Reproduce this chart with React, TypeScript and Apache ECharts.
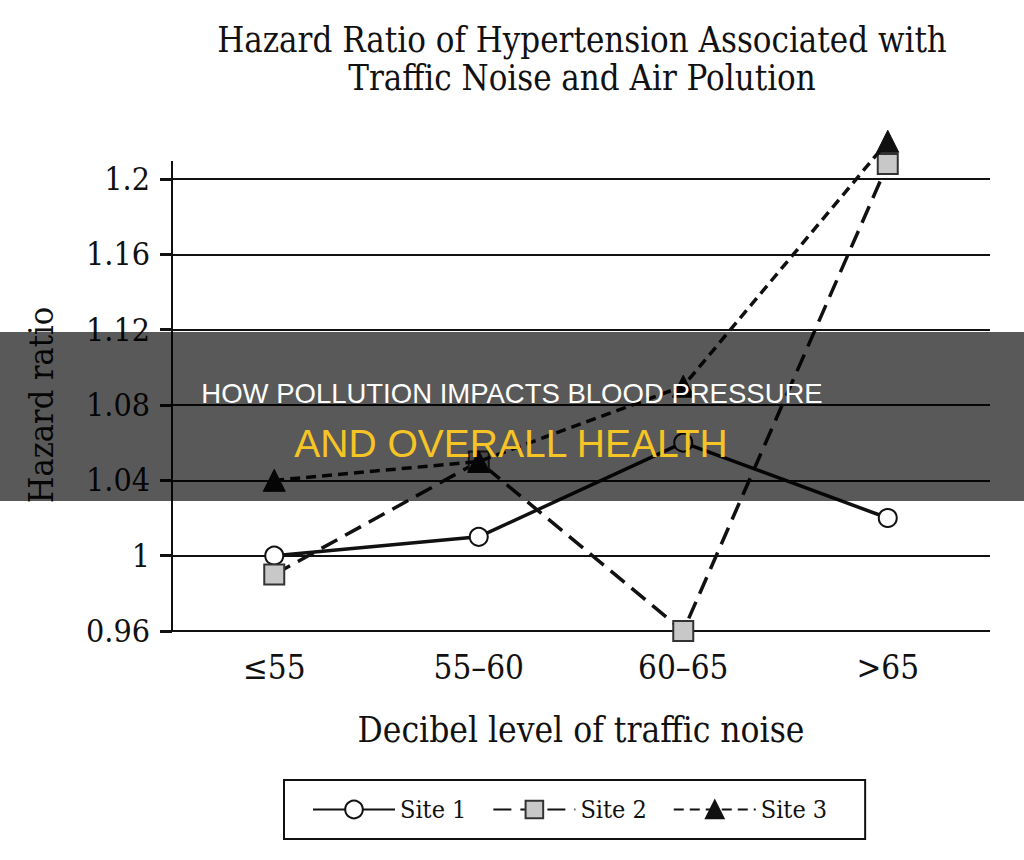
import React, { useEffect, useRef } from "react";
import * as echarts from "echarts";

const categories = ["≤55", "55–60", "60–65", ">65"];
const site1 = [1.0, 1.01, 1.06, 1.02];
const site2 = [0.99, 1.05, 0.96, 1.208];
const site3 = [1.04, 1.05, 1.09, 1.22];
const seriesNames = ["Site 1", "Site 2", "Site 3"];
const titleLines = ["Hazard Ratio of Hypertension Associated with", "Traffic Noise and Air Polution"];
const bannerLine1 = "HOW POLLUTION IMPACTS BLOOD PRESSURE";
const bannerLine2 = "AND OVERALL HEALTH";

const SERIF = "'DejaVu Serif Condensed', 'DejaVu Serif', serif";
const SANS = "'Liberation Sans', Arial, sans-serif";

export default function App() {
  const ref = useRef<HTMLDivElement>(null);
  useEffect(() => {
    document.body.style.margin = "0";
    if (!ref.current) return;
    const chart = echarts.init(ref.current, undefined, { renderer: "svg" });
    chart.setOption({
      animation: false,
      backgroundColor: "#ffffff",
      title: {
        text: titleLines.join("\n"),
        left: 577,
        top: 16,
        textAlign: "center",
        textStyle: { fontFamily: SERIF, fontSize: 34.5, fontWeight: "normal", color: "#111", lineHeight: 38 },
      },
      legend: {
        left: 284,
        top: 780,
        orient: "horizontal",
        borderColor: "#111",
        borderWidth: 2,
        padding: [17, 38, 17, 28],
        itemGap: 26,
        itemWidth: 82,
        itemHeight: 22,
        textStyle: { fontFamily: SERIF, fontSize: 25, color: "#111" },
        data: seriesNames,
      },
      grid: { left: 172, right: 34, top: 179, bottom: 229 },
      xAxis: {
        type: "category",
        data: categories,
        boundaryGap: true,
        name: "Decibel level of traffic noise",
        nameLocation: "middle",
        nameGap: 81,
        nameTextStyle: { fontFamily: SERIF, fontSize: 35, color: "#111" },
        axisLine: { show: false },
        axisTick: { show: false },
        axisLabel: { fontFamily: SERIF, fontSize: 33, color: "#111", margin: 20 },
      },
      yAxis: {
        type: "value",
        min: 0.96,
        max: 1.2,
        interval: 0.04,
        name: "Hazard ratio",
        nameLocation: "middle",
        nameGap: 114,
        nameTextStyle: { fontFamily: SERIF, fontSize: 34, color: "#111" },
        axisLine: { show: true, lineStyle: { color: "#111", width: 2 } },
        axisTick: { show: true, length: 12, lineStyle: { color: "#111", width: 3 } },
        axisLabel: {
          fontFamily: SERIF,
          fontSize: 32,
          color: "#111",
          margin: 22,
          formatter: (v: number) => String(parseFloat(v.toFixed(2))),
        },
        splitLine: { show: true, lineStyle: { color: "#111", width: 2 } },
      },
      series: [
        {
          name: seriesNames[0],
          type: "line",
          data: site1,
          clip: false,
          symbol: "circle",
          symbolSize: 18,
          lineStyle: { color: "#111", width: 3.5, type: "solid" },
          itemStyle: { color: "#ffffff", borderColor: "#111", borderWidth: 2 },
          z: 3,
        },
        {
          name: seriesNames[1],
          type: "line",
          data: site2,
          clip: false,
          symbol: "rect",
          symbolSize: 20,
          lineStyle: { color: "#111", width: 3.5, type: [18, 9] },
          itemStyle: { color: "#c8c8c8", borderColor: "#333", borderWidth: 2 },
          z: 4,
        },
        {
          name: seriesNames[2],
          type: "line",
          data: site3,
          clip: false,
          symbol: "triangle",
          symbolSize: [22, 22],
          lineStyle: { color: "#111", width: 3.5, type: [10, 6] },
          itemStyle: { color: "#111", borderColor: "#111", borderWidth: 1 },
          z: 5,
        },
      ],
      graphic: [
        {
          type: "line",
          shape: { x1: 172, y1: 161, x2: 172, y2: 180 },
          style: { stroke: "#111", lineWidth: 2 },
          z: 1,
        },
        {
          type: "rect",
          shape: { x: 0, y: 332, width: 1024, height: 169 },
          style: { fill: "rgba(0,0,0,0.65)" },
          z: 100,
        },
        {
          type: "text",
          x: 512,
          y: 393,
          style: {
            text: bannerLine1,
            fill: "#ffffff",
            font: `27.5px ${SANS}`,
            textAlign: "center",
            textVerticalAlign: "middle",
          },
          z: 101,
        },
        {
          type: "text",
          x: 511,
          y: 443,
          style: {
            text: bannerLine2,
            fill: "#f6c525",
            font: `39px ${SANS}`,
            textAlign: "center",
            textVerticalAlign: "middle",
          },
          z: 101,
        },
      ],
    });
    return () => chart.dispose();
  }, []);
  return <div ref={ref} style={{ width: 1024, height: 860 }} />;
}
